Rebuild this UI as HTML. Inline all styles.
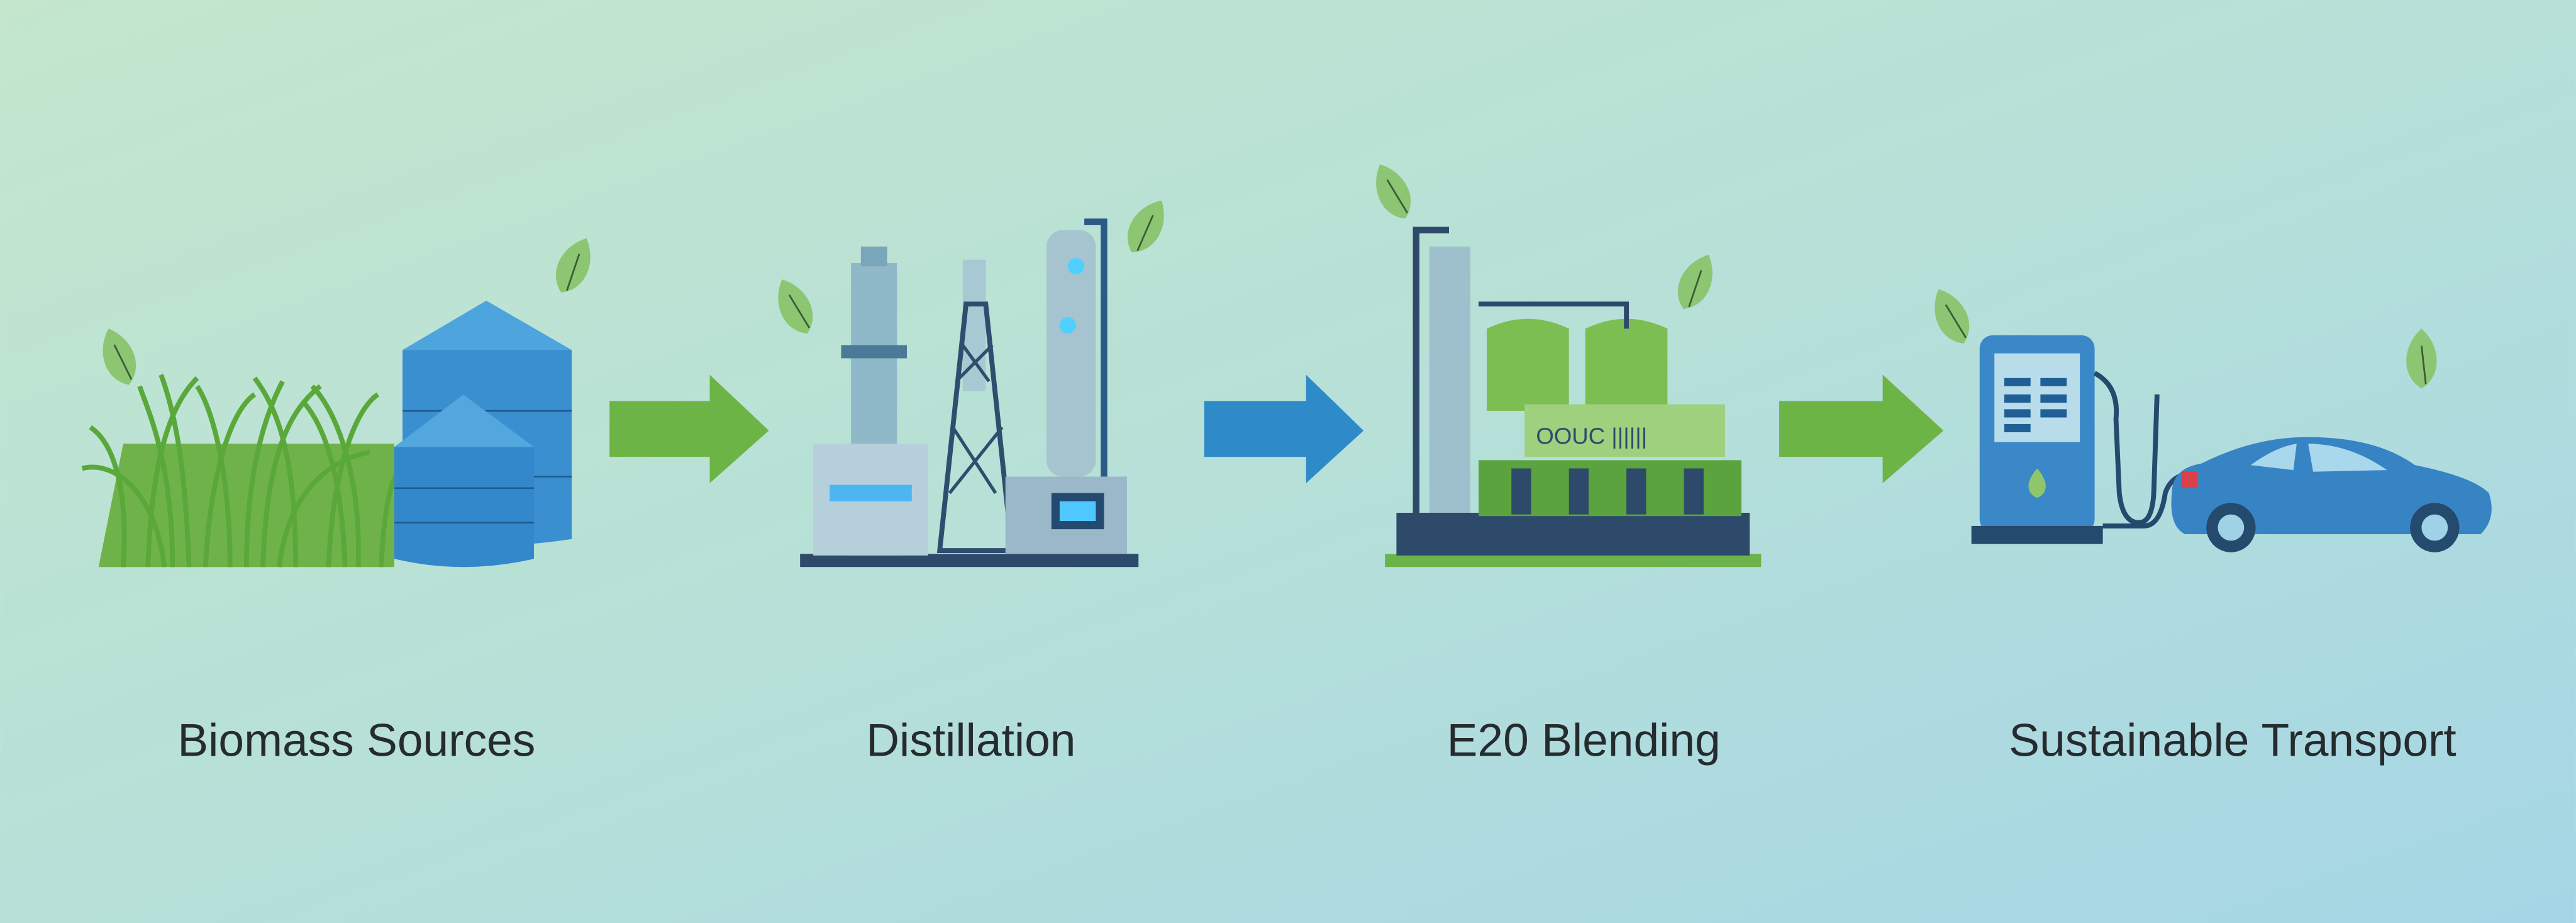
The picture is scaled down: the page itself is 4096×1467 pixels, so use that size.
<!DOCTYPE html>
<html><head><meta charset="utf-8"><style>
html,body{margin:0;padding:0;width:4096px;height:1467px;overflow:hidden}
svg{display:block}
text{font-family:"Liberation Sans",sans-serif;fill:#262b2e}
</style></head><body>
<svg width="4096" height="1467" viewBox="0 0 1568 561.6" xmlns="http://www.w3.org/2000/svg">
<defs>
<linearGradient id="bg" x1="0" y1="0" x2="1" y2="1">
<stop offset="0" stop-color="#c3e6cd"/><stop offset="0.5" stop-color="#b6e0d8"/><stop offset="1" stop-color="#a6d6e6"/>
</linearGradient>
<g id="leaf"><g transform="scale(1.3)"><path d="M0,0 C-9,8 -10,22 0,28 C10,22 9,8 0,0Z" fill="#8cc672"/><path d="M0,8 L2,26" stroke="#3b5a35" stroke-width="0.8"/></g></g>
</defs>
<rect width="1568" height="561.6" fill="url(#bg)"/>

<!-- Biomass -->
<use href="#leaf" transform="translate(66,200) rotate(-20)"/>
<use href="#leaf" transform="translate(357,145) rotate(25)"/>
<path d="M60,345 L75,270 L240,270 L240,345Z" fill="#6fb24a"/>
<g stroke="#5aa83a" stroke-width="3" fill="none">
<path d="M75,345 C78,300 70,270 55,260"/><path d="M90,345 C92,290 100,250 120,230"/><path d="M105,345 C105,280 90,250 85,235"/>
<path d="M125,345 C128,290 140,250 155,240"/><path d="M140,345 C140,290 130,250 120,235"/><path d="M160,345 C162,280 175,250 195,235"/>
<path d="M180,345 C180,280 170,250 155,230"/><path d="M200,345 C202,290 215,250 230,240"/><path d="M218,345 C220,290 205,250 190,235"/>
<path d="M232,345 C234,300 240,280 255,275"/><path d="M100,345 C95,300 70,280 50,285"/><path d="M170,345 C175,300 200,280 225,275"/>
<path d="M115,345 C113,290 108,255 98,228"/><path d="M150,345 C150,290 160,255 172,232"/><path d="M210,345 C208,290 198,260 185,245"/>
</g>
<path d="M245,213 L296,183 L348,213 L348,328 Q296,336 245,328Z" fill="#3a8fd0"/>
<path d="M245,213 L296,183 L348,213Z" fill="#4ea4dc"/>
<g stroke="#1d5a8a" stroke-width="1"><path d="M245,250 H348 M245,290 H348"/></g>
<path d="M240,272 L282,240 L325,272 L325,340 Q282,350 240,340Z" fill="#3388cc"/>
<path d="M240,272 L282,240 L325,272Z" fill="#52a8de"/>
<g stroke="#1d5a8a" stroke-width="1"><path d="M240,297 H325 M240,318 H325"/></g>

<path d="M371,244 H432 V228 L468,262 L432,294 V278 H371Z" fill="#6db446"/>

<!-- Distillation -->
<use href="#leaf" transform="translate(476,170) rotate(-25)"/>
<use href="#leaf" transform="translate(707,122) rotate(30)"/>
<rect x="487" y="337" width="206" height="8" fill="#2d4a6b"/>
<rect x="518" y="160" width="28" height="178" fill="#8fb8c8"/>
<rect x="524" y="150" width="16" height="12" fill="#7aa6ba"/>
<rect x="512" y="210" width="40" height="8" fill="#4a7a98"/>
<rect x="586" y="158" width="14" height="80" fill="#a8c8d4"/>
<path d="M572,335 L588,185 L600,185 L616,335Z" fill="none" stroke="#2f4e6e" stroke-width="3"/>
<path d="M578,300 L610,260 M580,260 L606,300 M584,230 L604,210 M586,210 L602,232" stroke="#2f4e6e" stroke-width="2"/>
<rect x="495" y="270" width="70" height="68" fill="#b5d0da"/>
<rect x="505" y="295" width="50" height="10" fill="#4db5ef"/>
<rect x="637" y="140" width="30" height="150" rx="10" fill="#a6c4d0"/>
<path d="M660,135 H672 V290" stroke="#2a5a86" stroke-width="4" fill="none"/>
<circle cx="655" cy="162" r="5" fill="#4fd0ff"/><circle cx="650" cy="198" r="5" fill="#4fd0ff"/>
<rect x="612" y="290" width="74" height="47" fill="#9bb8c8"/>
<rect x="640" y="300" width="32" height="22" fill="#244a72"/><rect x="645" y="305" width="22" height="12" fill="#4fc8ff"/>

<path d="M733,244 H795 V228 L830,262 L795,294 V278 H733Z" fill="#2f8ac9"/>

<!-- E20 -->
<use href="#leaf" transform="translate(840,100) rotate(-25)"/>
<use href="#leaf" transform="translate(1040,155) rotate(25)"/>
<rect x="843" y="337" width="229" height="8" fill="#6cb34a"/>
<rect x="850" y="312" width="215" height="26" fill="#2d4a6b"/>
<path d="M862,312 V140 H882" stroke="#2d4a6b" stroke-width="4" fill="none"/>
<rect x="870" y="150" width="25" height="162" fill="#9ec0cc"/>
<path d="M905,200 Q930,188 955,200 V250 H905Z" fill="#7cbe52"/>
<path d="M965,200 Q990,188 1015,200 V250 H965Z" fill="#7cbe52"/>
<path d="M900,185 H990 V200" stroke="#2d4a6b" stroke-width="3" fill="none"/>
<rect x="928" y="246" width="122" height="32" fill="#9fd07e"/>
<text x="935" y="270" font-size="14" style="fill:#2d4a6b">OOUC ||||||</text>
<rect x="900" y="280" width="160" height="34" fill="#5aa33e"/>
<g fill="#2d4a6b"><rect x="920" y="285" width="12" height="28"/><rect x="955" y="285" width="12" height="28"/><rect x="990" y="285" width="12" height="28"/><rect x="1025" y="285" width="12" height="28"/></g>

<path d="M1083,244 H1146 V228 L1183,262 L1146,294 V278 H1083Z" fill="#6db446"/>

<!-- Transport -->
<use href="#leaf" transform="translate(1180,176) rotate(-25)"/>
<use href="#leaf" transform="translate(1474,200) rotate(0)"/>
<rect x="1205" y="204" width="70" height="120" rx="8" fill="#3a88c8"/>
<rect x="1214" y="215" width="52" height="54" fill="#b8dcea"/>
<g fill="#1f5f96"><rect x="1220" y="230" width="16" height="5"/><rect x="1242" y="230" width="16" height="5"/><rect x="1220" y="240" width="16" height="5"/><rect x="1242" y="240" width="16" height="5"/><rect x="1220" y="249" width="16" height="5"/><rect x="1242" y="249" width="16" height="5"/><rect x="1220" y="258" width="16" height="5"/></g>
<path d="M1240,285 C1233,293 1233,300 1240,303 C1247,300 1247,293 1240,285Z" fill="#8fc66a"/>
<rect x="1200" y="320" width="80" height="11" fill="#244a6e"/>
<path d="M1275,227 Q1290,235 1288,255 L1290,300 Q1292,318 1302,318 Q1310,318 1311,300 L1313,240" stroke="#244a6e" stroke-width="3" fill="none"/>
<path d="M1280,320 H1305 Q1315,320 1318,300 Q1322,288 1336,288" stroke="#244a6e" stroke-width="3" fill="none"/>
<path d="M1322,300 Q1322,285 1340,282 Q1370,267 1400,266 Q1445,265 1470,283 Q1505,290 1515,300 Q1520,315 1510,325 H1330 Q1320,320 1322,300Z" fill="#3784c4"/>
<path d="M1370,283 Q1385,272 1398,270 L1396,286 Z" fill="#a9d8ec"/>
<path d="M1405,270 Q1430,270 1453,286 L1408,287Z" fill="#a9d8ec"/>
<rect x="1328" y="287" width="10" height="10" fill="#d9404a"/>
<circle cx="1358" cy="321" r="15" fill="#244a6e"/><circle cx="1358" cy="321" r="8" fill="#9fd2e6"/>
<circle cx="1482" cy="321" r="15" fill="#244a6e"/><circle cx="1482" cy="321" r="8" fill="#9fd2e6"/>

<!-- Labels -->
<g font-size="28" text-anchor="middle">
<text x="217" y="460">Biomass Sources</text>
<text x="591" y="460">Distillation</text>
<text x="964" y="460">E20 Blending</text>
<text x="1359" y="460">Sustainable Transport</text>
</g>
</svg>
</body></html>
